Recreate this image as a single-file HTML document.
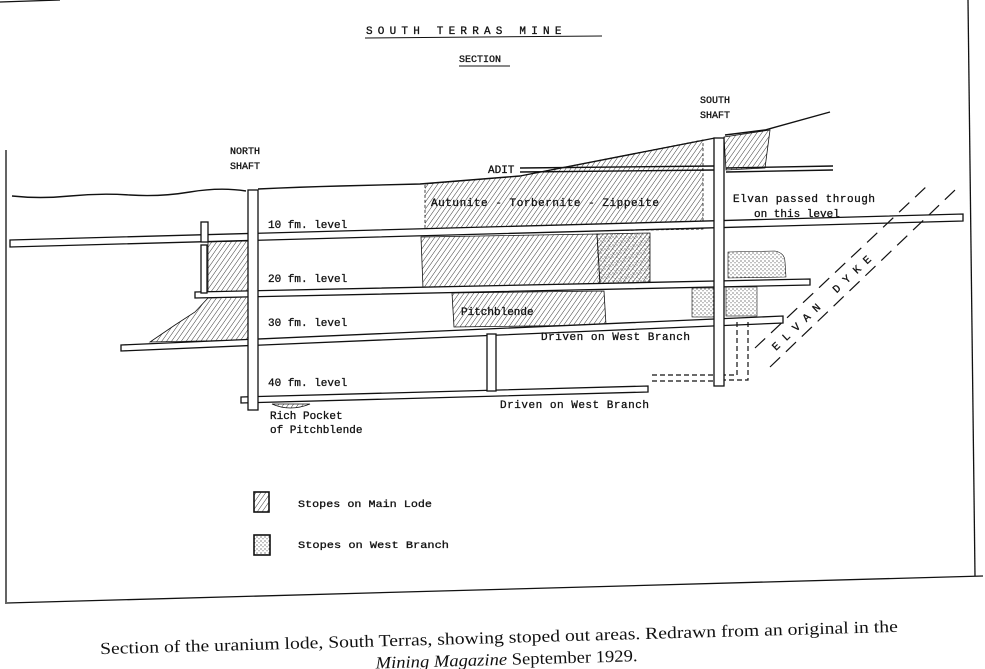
<!DOCTYPE html>
<html><head><meta charset="utf-8"><style>
html,body{margin:0;padding:0;background:#fff;}
svg{display:block}
text{font-family:"Liberation Mono",monospace;fill:#111}
</style></head><body>
<svg width="985" height="669" viewBox="0 0 985 669" xmlns="http://www.w3.org/2000/svg">
<defs>
<pattern id="h" width="4" height="4" patternUnits="userSpaceOnUse" patternTransform="rotate(35)">
<line x1="0" y1="0" x2="0" y2="4" stroke="#222" stroke-width="0.9"/>
</pattern>
<pattern id="d" width="4" height="4" patternUnits="userSpaceOnUse">
<circle cx="1" cy="1" r="0.6" fill="#333"/><circle cx="3" cy="2.8" r="0.55" fill="#444"/>
</pattern>
</defs>
<g stroke="#111" fill="none" stroke-width="1.3">
<line x1="0" y1="2" x2="60" y2="0"/>
<line x1="6" y1="150" x2="6" y2="604"/>
<line x1="7" y1="603" x2="983" y2="576"/>
<line x1="968" y1="0" x2="975" y2="576"/>
</g>
<text x="366" y="34" font-size="11" letter-spacing="5.2" stroke="#111" stroke-width="0.3">SOUTH TERRAS MINE</text>
<line x1="365" y1="38" x2="602" y2="36" stroke="#111"/>
<text x="459" y="62" font-size="10" stroke="#111" stroke-width="0.3">SECTION</text>
<line x1="459" y1="66" x2="510" y2="66" stroke="#111"/>

<g fill="url(#h)" stroke="#111" stroke-width="0.8">
<polygon points="425,184 520,176 703,140 703,229 425,234" stroke-dasharray="3,2"/>
<polygon points="724,137 770,130 765,168 726,170"/>
<polygon points="421,237 597,234 600,284 423,288"/>
<polygon points="597,234 650,233 650,282 600,284"/>
<polygon points="452,293 604,291 606,325 454,327"/>
<polygon points="208,242 248,241 249,292 208,293"/>
<polygon points="150,342 175,325 195,312 208,298 248,297 249,340"/>
<path d="M272,404 Q290,412 310,404 Z"/>
</g>
<g fill="url(#d)" stroke="#111" stroke-width="0.6">
<rect x="597" y="234" width="53" height="49" stroke="none"/>
<path d="M728,252 L775,251 Q785,253 785,262 L786,277 L728,278 Z"/>
<rect x="692" y="288" width="23" height="29"/>
<rect x="726" y="287" width="31" height="29"/>
</g>

<g stroke="#111" fill="none" stroke-width="1.4">
<path d="M12,196 Q40,199 70,196 T130,195 T190,192 T246,191"/>
<path d="M258,189 Q300,187 340,186 T420,184 L520,176"/>
<path d="M520,176 L715,138"/>
<path d="M725,135 L765,130 L830,112"/>
<path d="M520,168 L715,166"/>
<path d="M520,172 L715,170"/>
<path d="M726,168 L833,166"/>
<path d="M726,172 L833,170"/>
</g>

<g fill="#fff" stroke="#111" stroke-width="1.3">
<polygon points="10,240 963,214 963,221 10,247"/>
<polygon points="195,292 810,279 810,285 195,298"/>
<polygon points="121,345 783,316 783,323 121,351"/>
<polygon points="241,397 648,386 648,392 241,403"/>
<rect x="201" y="222" width="7" height="20"/>
<rect x="201" y="245" width="6" height="48"/>
<rect x="487" y="334" width="9" height="57"/>
<rect x="248" y="190" width="10" height="220"/>
<rect x="714" y="138" width="10" height="248"/>
</g>
<g stroke="#111" stroke-width="1.2" fill="none" stroke-dasharray="5,3">
<path d="M737,322 V375 H724"/>
<path d="M748,322 V380 H724"/>
<path d="M652,375 H714"/>
<path d="M652,381 H714"/>
</g>
<g stroke="#111" stroke-width="1.2" stroke-dasharray="14,8">
<line x1="755" y1="348" x2="928" y2="185"/>
<line x1="770" y1="367" x2="955" y2="190"/>
</g>
<text transform="translate(776,351) rotate(-43.5)" font-size="11" textLength="132" lengthAdjust="spacing" stroke="#111" stroke-width="0.3">ELVAN DYKE</text>

<g font-size="11" stroke="#111" stroke-width="0.3">
<text x="230" y="154" font-size="10">NORTH</text>
<text x="230" y="169" font-size="10">SHAFT</text>
<text x="700" y="103" font-size="10">SOUTH</text>
<text x="700" y="118" font-size="10">SHAFT</text>
<text x="488" y="173">ADIT</text>
<text x="431" y="206" textLength="228">Autunite - Torbernite - Zippeite</text>
<text x="268" y="228">10 fm. level</text>
<text x="268" y="282">20 fm. level</text>
<text x="268" y="326">30 fm. level</text>
<text x="268" y="386">40 fm. level</text>
<text x="461" y="315">Pitchblende</text>
<text x="733" y="202" textLength="142">Elvan passed through</text>
<text x="754" y="217">on this level</text>
<text x="541" y="340" textLength="149">Driven on West Branch</text>
<text x="500" y="408" textLength="149">Driven on West Branch</text>
<text x="270" y="419">Rich Pocket</text>
<text x="270" y="433">of Pitchblende</text>
<text x="298" y="507" font-size="10.5" textLength="134" lengthAdjust="spacingAndGlyphs">Stopes on Main Lode</text>
<text x="298" y="548" font-size="10.5" textLength="151" lengthAdjust="spacingAndGlyphs">Stopes on West Branch</text>
</g>
<rect x="254" y="492" width="15" height="20" fill="url(#h)" stroke="#111" stroke-width="1.6"/>
<rect x="254" y="535" width="16" height="20" fill="url(#d)" stroke="#111" stroke-width="1.6"/>

<g transform="rotate(-1.6 500 640)">
<text x="100" y="643" font-size="17" textLength="798" lengthAdjust="spacingAndGlyphs" style="font-family:'Liberation Serif',serif">Section of the uranium lode, South Terras, showing stoped out areas. Redrawn from an original in the</text>
<text x="375" y="665" font-size="17" textLength="262" lengthAdjust="spacingAndGlyphs" style="font-family:'Liberation Serif',serif"><tspan font-style="italic">Mining Magazine</tspan> September 1929.</text>
</g>
</svg>
</body></html>
